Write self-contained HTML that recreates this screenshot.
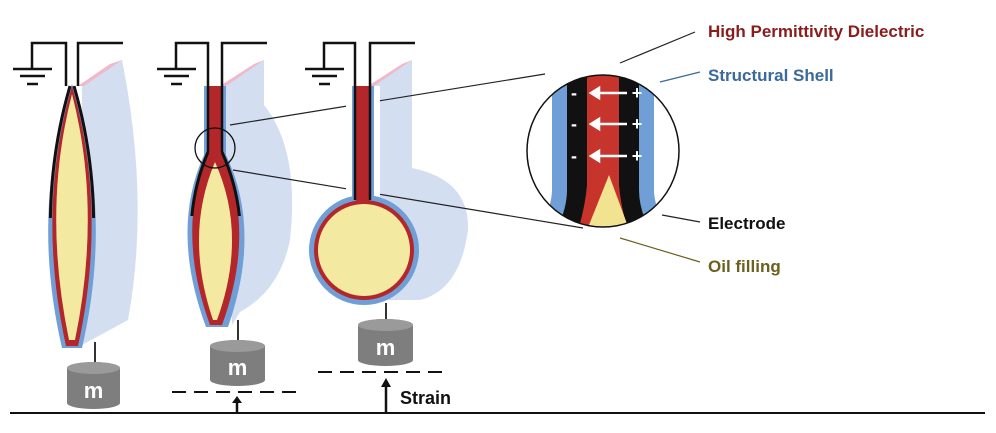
<!DOCTYPE html>
<html><head><meta charset="utf-8"><style>
html,body{margin:0;padding:0;background:#fff;width:996px;height:433px;overflow:hidden}
svg{display:block}
text{font-family:"Liberation Sans",sans-serif;font-weight:bold}
</style></head><body>
<svg width="996" height="433" viewBox="0 0 996 433" xmlns="http://www.w3.org/2000/svg">
<defs>
<clipPath id="cc"><circle cx="603" cy="151" r="76"/></clipPath>
<clipPath id="top1"><rect x="0" y="80" width="160" height="138"/></clipPath>
<clipPath id="top2"><rect x="150" y="150" width="150" height="66"/></clipPath>
</defs>

<!-- FIGURE 1 -->
<path d="M82,86 L122,60 Q150,200 128,320 L82,345 Z" fill="#d3dff0"/>
<path d="M78,86 L110,64 L122,60 L84,86 Z" fill="#f0b8c8"/>
<path d="M72,84 Q30,210 62,348 L82,348 Q114,210 72,84 Z" fill="#6f9fd6"/>
<path d="M72,86 Q36,210 66,346 L78,346 Q108,210 72,86 Z" fill="#b3262a"/>
<path d="M72,94 Q42,210 69,340 L75,340 Q102,210 72,94 Z" fill="#f3e9a0"/>
<g clip-path="url(#top1)" fill="none" stroke="#111" stroke-width="3">
<path d="M70,86 Q34,210 64,346"/>
<path d="M74,86 Q110,210 80,346"/>
</g>
<path d="M66,86 L66,43 L32,43 L32,68" fill="none" stroke="#111" stroke-width="2.5"/>
<path d="M78,86 L78,43 L123,43" fill="none" stroke="#111" stroke-width="2.5"/>
<path d="M13,69 H52 M20,76 H45 M27,84 H38" stroke="#111" stroke-width="2.5"/>
<line x1="95" y1="342" x2="95" y2="366" stroke="#333" stroke-width="2"/>
<path d="M67,368 A26.5,6 0 0 1 120,368 V403 A26.5,6 0 0 1 67,403 Z" fill="#7e7e7e"/>
<ellipse cx="93.5" cy="368" rx="26.5" ry="6" fill="#9a9a9a"/>
<text x="93.5" y="398" font-size="22" fill="#fff" font-weight="normal" text-anchor="middle">m</text>

<!-- FIGURE 2 -->
<path d="M222,86 L264,60 L264,105 Q300,150 290,240 Q280,290 240,312 L232,325 Z" fill="#d3dff0"/>
<path d="M220,86 L254,64 L264,60 L226,86 Z" fill="#f0b8c8"/>
<rect x="204" y="86" width="22" height="70" fill="#6f9fd6"/>
<path d="M204,155 Q170,230 206,327 L228,327 Q262,230 226,155 Z" fill="#6f9fd6"/>
<path d="M207,155 Q176,232 210,325 L222,325 Q256,232 223,155 Z" fill="#b3262a"/>
<rect x="207" y="86" width="16" height="72" fill="#b3262a"/>
<path d="M215,162 Q184,235 213,320 L217,320 Q248,235 215,162 Z" fill="#f3e9a0"/>
<line x1="208" y1="86" x2="208" y2="152" stroke="#111" stroke-width="2.5"/>
<line x1="222" y1="86" x2="222" y2="152" stroke="#111" stroke-width="2.5"/>
<g clip-path="url(#top2)" fill="none" stroke="#111" stroke-width="3">
<path d="M208,152 Q174,232 208,326"/>
<path d="M222,152 Q258,232 224,326"/>
</g>
<circle cx="215" cy="148" r="20" fill="none" stroke="#111" stroke-width="1.3"/>
<path d="M208,86 L208,43 L176,43 L176,68" fill="none" stroke="#111" stroke-width="2.5"/>
<path d="M222,86 L222,43 L267,43" fill="none" stroke="#111" stroke-width="2.5"/>
<path d="M157,69 H196 M164,76 H189 M171,84 H182" stroke="#111" stroke-width="2.5"/>
<line x1="238" y1="320" x2="238" y2="345" stroke="#333" stroke-width="2"/>
<path d="M210,346 A27.5,6 0 0 1 265,346 V380 A27.5,6 0 0 1 210,380 Z" fill="#7e7e7e"/>
<ellipse cx="237.5" cy="346" rx="27.5" ry="6" fill="#9a9a9a"/>
<text x="237.5" y="375" font-size="22" fill="#fff" font-weight="normal" text-anchor="middle">m</text>
<line x1="172" y1="392" x2="300" y2="392" stroke="#111" stroke-width="2" stroke-dasharray="14,8"/>
<line x1="237" y1="412" x2="237" y2="402" stroke="#111" stroke-width="2.5"/>
<path d="M232,403 L237,396 L242,403 Z" fill="#111"/>

<!-- FIGURE 3 shading -->
<path d="M370,86 L412,60 L412,168 Q470,180 468,230 Q460,290 420,300 L380,300 Z" fill="#d3dff0"/>
<path d="M368,86 L402,64 L412,60 L374,86 Z" fill="#f0b8c8"/>

<!-- connector lines -->
<line x1="230" y1="125" x2="545" y2="74" stroke="#222" stroke-width="1.2"/>
<line x1="233" y1="170" x2="583" y2="228" stroke="#222" stroke-width="1.2"/>

<!-- FIGURE 3 tube -->
<rect x="346" y="86" width="34" height="120" fill="#fff"/>
<rect x="352" y="86" width="22" height="120" fill="#6f9fd6"/>
<circle cx="364" cy="250" r="55" fill="#6f9fd6"/>
<circle cx="364" cy="250" r="50" fill="#b3262a"/>
<rect x="356" y="86" width="14" height="120" fill="#b3262a"/>
<circle cx="364" cy="250" r="46" fill="#f3e9a0"/>
<line x1="355" y1="86" x2="355" y2="200" stroke="#111" stroke-width="2.5"/>
<line x1="370" y1="86" x2="370" y2="200" stroke="#111" stroke-width="2.5"/>
<path d="M355,86 L355,43 L324,43 L324,68" fill="none" stroke="#111" stroke-width="2.5"/>
<path d="M370,86 L370,43 L415,43" fill="none" stroke="#111" stroke-width="2.5"/>
<path d="M305,69 H344 M312,76 H337 M319,84 H330" stroke="#111" stroke-width="2.5"/>
<line x1="386" y1="303" x2="386" y2="325" stroke="#333" stroke-width="2"/>
<path d="M358,325 A27.5,6 0 0 1 413,325 V360 A27.5,6 0 0 1 358,360 Z" fill="#7e7e7e"/>
<ellipse cx="385.5" cy="325" rx="27.5" ry="6" fill="#9a9a9a"/>
<text x="385.5" y="355" font-size="22" fill="#fff" font-weight="normal" text-anchor="middle">m</text>
<line x1="318" y1="372" x2="450" y2="372" stroke="#111" stroke-width="2" stroke-dasharray="14,8"/>
<line x1="386" y1="412" x2="386" y2="386" stroke="#111" stroke-width="2.5"/>
<path d="M381,387 L386,378 L391,387 Z" fill="#111"/>
<text x="400" y="404" font-size="18" fill="#111">Strain</text>

<line x1="10" y1="413" x2="985" y2="413" stroke="#111" stroke-width="2"/>

<!-- ZOOM CIRCLE -->
<g clip-path="url(#cc)">
<rect x="520" y="70" width="170" height="170" fill="#fff"/>
<path d="M552,70 L552,190 Q552,205 540,230 L560,240 Q572,210 572,195 L572,70 Z" fill="#6f9fd6"/>
<path d="M654,70 L654,190 Q654,205 666,230 L646,240 Q634,210 634,195 L634,70 Z" fill="#6f9fd6"/>
<path d="M567,70 L567,190 Q567,210 555,232 L651,232 Q639,210 639,190 L639,70 Z" fill="#111"/>
<path d="M587,70 L587,185 Q585,210 575,240 L631,240 Q621,210 619,185 L619,70 Z" fill="#c7342b"/>
<path d="M609,175 L583,240 L633,240 Z" fill="#f1e38f"/>
<g stroke="#fff" stroke-width="2.5" fill="#fff">
<line x1="596" y1="93" x2="627" y2="93"/><path d="M591,93 L599,88 L599,98 Z"/>
<line x1="596" y1="124" x2="627" y2="124"/><path d="M591,124 L599,119 L599,129 Z"/>
<line x1="596" y1="156" x2="627" y2="156"/><path d="M591,156 L599,151 L599,161 Z"/>
</g>
<g fill="#fff" font-size="18">
<text x="574" y="99" text-anchor="middle">-</text><text x="637" y="99" text-anchor="middle">+</text>
<text x="574" y="130" text-anchor="middle">-</text><text x="637" y="130" text-anchor="middle">+</text>
<text x="574" y="162" text-anchor="middle">-</text><text x="637" y="162" text-anchor="middle">+</text>
</g>
</g>
<circle cx="603" cy="151" r="76" fill="none" stroke="#111" stroke-width="1.5"/>

<!-- labels -->
<line x1="620" y1="63" x2="695" y2="32" stroke="#222" stroke-width="1.2"/>
<line x1="660" y1="82" x2="700" y2="72" stroke="#3a6a9a" stroke-width="1.2"/>
<line x1="662" y1="215" x2="700" y2="222" stroke="#222" stroke-width="1.2"/>
<line x1="620" y1="238" x2="700" y2="262" stroke="#6b6020" stroke-width="1.2"/>
<text x="708" y="37" font-size="17" fill="#8a1c1c">High Permittivity Dielectric</text>
<text x="708" y="81" font-size="17" fill="#3a6a9a">Structural Shell</text>
<text x="708" y="229" font-size="17" fill="#111">Electrode</text>
<text x="708" y="272" font-size="17" fill="#6b6020">Oil filling</text>
</svg>
</body></html>
